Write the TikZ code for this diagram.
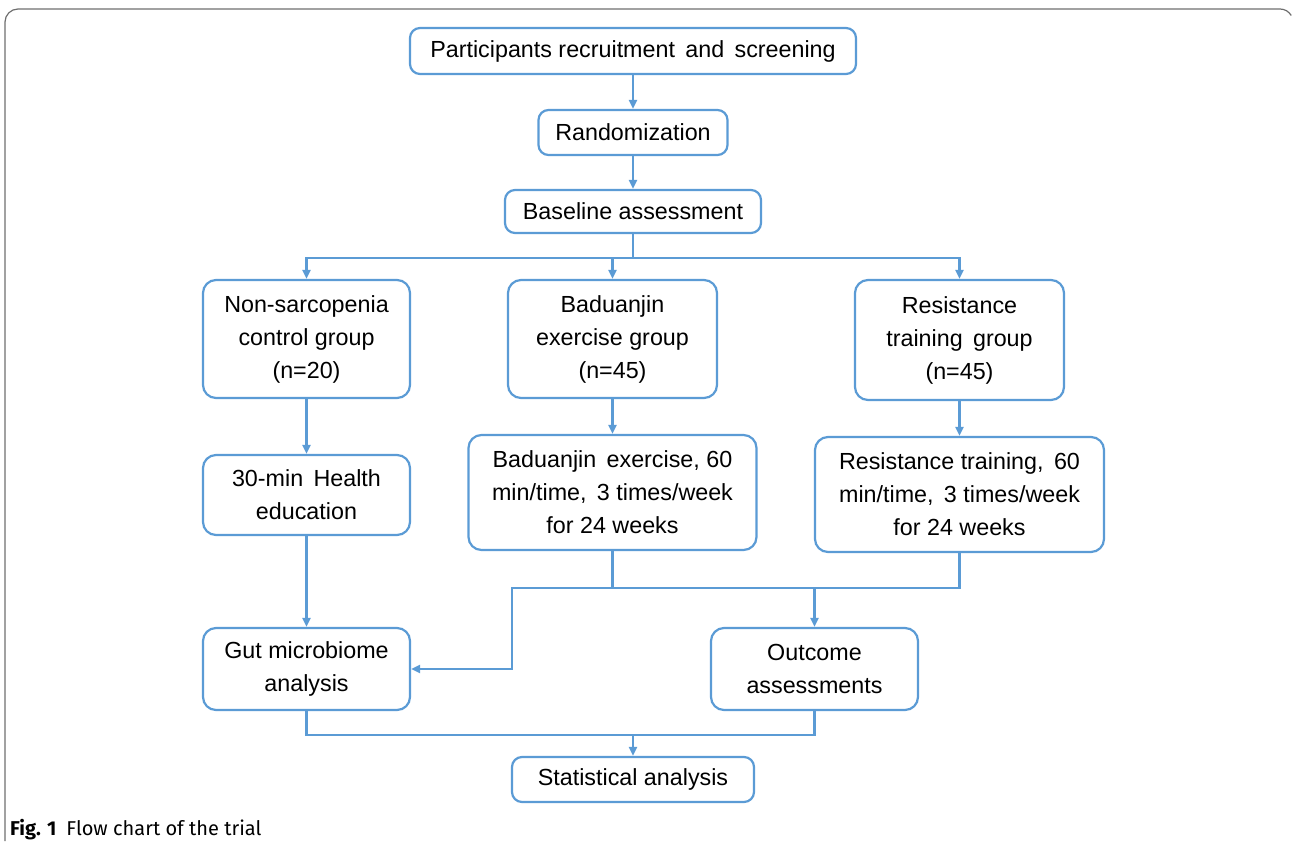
\documentclass[tikz,border=0pt]{standalone}
\usepackage{fontspec}
\setmainfont{Liberation Sans}
\newfontfamily\capfont{Fira Sans}
\usetikzlibrary{arrows.meta}
\definecolor{boxblue}{HTML}{5B9BD5}
\definecolor{framegray}{HTML}{6E6E6E}
\begin{document}
\begin{tikzpicture}[x=1pt,y=-1pt,
  fbox/.style={draw=boxblue, line width=2.2pt, rounded corners=13pt, align=center,
    inner sep=0pt, font=\fontsize{23.3}{33}\selectfont, text=black},
  conn/.style={draw=boxblue, line width=2.2pt},
  arr/.style={conn, -{Triangle[length=9pt,width=8pt]}}]
\useasboundingbox (0,0) rectangle (1293,841);
% frame
\draw[framegray, line width=1.2pt] (5,841) -- (5,22) arc[start angle=180,end angle=270,radius=13] -- (1280,9) arc[start angle=270,end angle=330,radius=13];
% boxes
\node[fbox, minimum width=446, minimum height=46, rounded corners=10pt] (p) at (633,51) {Participants recruitment\, and\, screening};
\node[fbox, minimum width=189, minimum height=45, rounded corners=10pt] (r) at (633,132.5) {Randomization};
\node[fbox, minimum width=256, minimum height=43, rounded corners=10pt] (b) at (633,211.5) {Baseline assessment};
\node[fbox, minimum width=207, minimum height=118] (g1) at (306.5,339) {Non-sarcopenia\\control group\\(n=20)};
\node[fbox, minimum width=209, minimum height=118] (g2) at (612.5,339) {Baduanjin\\exercise group\\(n=45)};
\node[fbox, minimum width=209, minimum height=120] (g3) at (959.5,340) {Resistance\\training\, group\\(n=45)};
\node[fbox, minimum width=207, minimum height=80] (t1) at (306.5,495) {30-min\, Health\\education};
\node[fbox, minimum width=288, minimum height=115] (t2) at (612.5,492.5) {Baduanjin\, exercise, 60\\min/time,\, 3 times/week\\for 24 weeks};
\node[fbox, minimum width=289, minimum height=115] (t3) at (959.5,494.5) {Resistance training,\, 60\\min/time,\, 3 times/week\\for 24 weeks};
\node[fbox, minimum width=207, minimum height=82] (gut) at (306.5,669) {Gut microbiome\\analysis};
\node[fbox, minimum width=207, minimum height=82] (out) at (814.5,669) {Outcome\\assessments};
\node[fbox, minimum width=242, minimum height=45, rounded corners=10pt] (s) at (633,779.5) {Statistical analysis};
% junction coordinates
\coordinate (j1) at (633,258);
\coordinate (j2) at (612.5,588);
\coordinate (j3) at (512,588);
\coordinate (j4) at (814.5,588);
\coordinate (j5) at (633,735);
% connectors
\draw[arr] (p.south) -- (r.north);
\draw[arr] (r.south) -- (b.north);
\draw[conn] (b.south) -- (j1);
\draw[arr] (j1) -| (g1.north);
\draw[arr] (j1) -| (g2.north);
\draw[arr] (j1) -| (g3.north);
\draw[arr] (g1.south) -- (t1.north);
\draw[arr] (g2.south) -- (t2.north);
\draw[arr] (g3.south) -- (t3.north);
\draw[arr] (t1.south) -- (gut.north);
\draw[conn] (t2.south) -- (j2) -| (t3.south);
\draw[arr] (j2) -- (j3) |- (gut.east);
\draw[arr] (j4) -- (out.north);
\draw[conn] (gut.south) |- (j5) -| (out.south);
\draw[arr] (j5) -- (s.north);
% caption
\node[anchor=base west, inner sep=0pt, font=\capfont\fontsize{20}{22}\selectfont] (cap) at (10,835) {\textbf{Fig. 1}\enspace Flow chart of the trial};
\end{tikzpicture}
\end{document}
